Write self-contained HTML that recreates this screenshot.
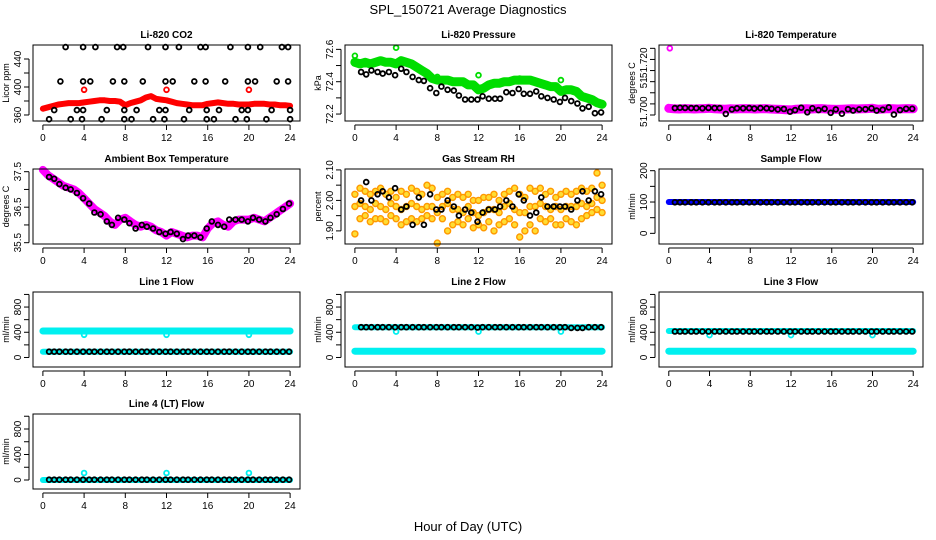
<!DOCTYPE html>
<html><head><meta charset="utf-8"><style>
html,body{margin:0;padding:0;background:#fff;}
svg{display:block;font-family:"Liberation Sans",Arial,sans-serif;}
</style></head><body>
<svg id="chart" width="936" height="540" viewBox="0 0 936 540" xmlns="http://www.w3.org/2000/svg">
<text x="468" y="14" text-anchor="middle" font-size="13">SPL_150721  Average Diagnostics</text>
<text x="468" y="531" text-anchor="middle" font-size="13">Hour of Day (UTC)</text>
</svg>
<script>
const hoursD = [0,0.5,1,1.5,2,2.5,3,3.5,4,4.5,5,5.5,6,6.5,7,7.5,8,8.5,9,9.5,10,10.5,11,11.5,12,12.5,13,13.5,14,14.5,15,15.5,16,16.5,17,17.5,18,18.5,19,19.5,20,20.5,21,21.5,22,22.5,23,23.5,24];
const hoursB = [0.6,1.1,1.6,2.2,2.7,3.3,3.9,4.5,5.0,5.6,6.2,6.7,7.3,7.9,8.4,9.0,9.6,10.1,10.7,11.3,11.9,12.4,13.0,13.6,14.1,14.7,15.3,15.9,16.4,17.0,17.6,18.1,18.7,19.3,19.9,20.4,21.0,21.6,22.1,22.7,23.3,23.9];
const xTicks = [0,4,8,12,16,20,24];
const outX = [4,12,20];

// CO2
const co2Band = [369,371,373,375,376,377,377,377,378,379,380,381,381,380,380,379,374,377,379,381,385,387,383,382,381,379,377,376,375,374,374,374,376,377,378,377,376,376,375,375,375,376,376,376,375,375,374,374,373];
const co2L1X = [2.2,3.9,5.1,7.2,7.8,10.2,11.9,13.2,15.3,15.8,18.2,19.9,21.1,23.2,23.8];
const co2L2X = [1.7,3.9,4.6,6.8,7.9,9.7,11.9,12.6,14.7,15.8,17.7,19.9,20.6,22.7,23.8];
const co2L3X = [1.1,3.3,3.9,6.2,7.9,9.1,11.3,11.9,14.2,15.9,17.1,19.3,19.9,22.2,24.0];
const co2L4X = [0.6,2.7,3.8,5.7,7.9,8.6,10.7,11.8,13.7,15.9,16.6,18.7,19.8,21.7,24.0];
const co2L1Y = [457,457,457,457,457,457,457,457,457,457,457,457,457,457,457];
const co2L2Y = [408,408,408,408,408,408,408,408,408,408,408,408,408,408,408];
const co2L3Y = [367,367,367,367,367,367,367,367,367,367,367,367,367,367,367];
const co2L4Y = [354,354,354,354,354,354,354,354,354,354,354,354,354,354,354];
const co2Out = [396,396,396];

// Pressure
const presBand = [72.52,72.51,72.52,72.51,72.52,72.53,72.52,72.52,72.51,72.53,72.52,72.51,72.49,72.47,72.45,72.42,72.41,72.41,72.41,72.40,72.40,72.40,72.38,72.38,72.35,72.36,72.38,72.39,72.39,72.40,72.40,72.41,72.41,72.41,72.41,72.40,72.39,72.38,72.37,72.37,72.34,72.35,72.35,72.34,72.31,72.30,72.29,72.27,72.26];
const presBlack = [72.46,72.445,72.47,72.46,72.45,72.46,72.44,72.48,72.46,72.43,72.41,72.405,72.36,72.33,72.37,72.35,72.345,72.315,72.29,72.29,72.29,72.31,72.295,72.295,72.295,72.335,72.33,72.355,72.325,72.325,72.34,72.31,72.30,72.29,72.275,72.30,72.28,72.265,72.235,72.245,72.205,72.21];
const presOutX = [0,4,8,12,16,20];
const presOut = [72.56,72.61,72.43,72.44,72.42,72.41];

// Li-820 temperature
const ltBand = [51.7030,51.7028,51.7027,51.7029,51.7028,51.7027,51.7028,51.7029,51.7030,51.7028,51.7027,51.7026,51.7028,51.7027,51.7028,51.7029,51.7028,51.7027,51.7028,51.7029,51.7027,51.7026,51.7025,51.7024,51.7023,51.7026,51.7027,51.7028,51.7027,51.7028,51.7029,51.7027,51.7026,51.7025,51.7026,51.7027,51.7028,51.7027,51.7028,51.7029,51.7030,51.7026,51.7027,51.7029,51.7028,51.7027,51.7028,51.7029,51.7028];
const ltBlack = [51.7031,51.7033,51.7032,51.7031,51.7031,51.7030,51.7032,51.7031,51.7031,51.7005,51.7025,51.7030,51.7030,51.7031,51.7029,51.7031,51.7030,51.7028,51.7025,51.7027,51.7015,51.7022,51.7033,51.7012,51.7030,51.7022,51.7028,51.7010,51.7025,51.7006,51.7026,51.7020,51.7025,51.7026,51.7030,51.7020,51.7024,51.7034,51.7002,51.7022,51.7028,51.7028];
const ltOutX = [0.1];
const ltOut = [51.7300];

// Ambient box temperature
const ambBand = [37.55,37.4,37.3,37.2,37.1,37.05,37.0,36.9,36.75,36.6,36.45,36.35,36.25,36.1,36.0,36.15,36.2,36.1,36.0,35.95,36.0,35.95,35.85,35.8,35.7,35.8,35.75,35.7,35.65,35.7,35.7,35.65,35.9,36.05,36.1,36.0,35.95,36.1,36.15,36.15,36.15,36.2,36.15,36.1,36.2,36.3,36.4,36.5,36.6];
const ambBlack = [37.35,37.3,37.15,37.05,37.0,36.9,36.75,36.6,36.35,36.3,36.1,36.0,36.2,36.15,36.05,35.9,36.0,35.95,35.9,35.8,35.75,35.8,35.75,35.6,35.7,35.7,35.65,35.9,36.1,36.0,35.95,36.15,36.15,36.15,36.1,36.2,36.15,36.1,36.2,36.3,36.45,36.6];

// Gas stream RH
const rhA = [2.02,2.04,2.03,2.02,2.03,2.04,2.02,2.03,2.01,2.03,2.02,2.04,2.03,2.02,2.05,2.04,2.01,2.02,2.03,2.01,2.02,2.01,2.02,2.00,2.00,2.01,2.01,2.02,2.00,2.02,2.03,2.04,2.02,2.01,2.04,2.03,2.04,2.02,2.03,2.01,2.02,2.03,2.02,2.03,2.04,2.03,2.04,2.09,2.05];
const rhB = [1.98,1.99,1.98,1.97,1.99,1.98,1.97,1.99,1.98,1.97,1.98,1.99,1.98,1.97,1.98,1.98,1.96,1.98,1.99,1.97,1.97,1.96,1.98,1.96,1.95,1.96,1.97,1.97,1.96,1.98,1.99,1.97,1.96,1.96,1.98,1.98,1.99,1.98,1.97,1.98,1.97,1.98,1.98,1.98,1.99,1.98,1.99,2.01,2.00];
const rhC = [1.89,1.94,1.95,1.93,1.94,1.94,1.93,1.95,1.94,1.92,1.93,1.94,1.93,1.94,1.95,1.94,1.86,1.94,1.90,1.92,1.93,1.92,1.94,1.91,1.92,1.91,1.93,1.90,1.92,1.93,1.94,1.92,1.88,1.90,1.92,1.90,1.94,1.93,1.94,1.92,1.92,1.94,1.93,1.92,1.94,1.95,1.96,1.97,1.96];
const rhBlack = [2.00,2.06,2.00,2.02,2.03,2.01,2.04,1.97,1.98,1.92,2.01,1.92,2.02,1.97,1.97,2.00,1.98,1.95,1.97,1.96,1.93,1.96,1.97,1.97,1.98,2.00,1.98,2.02,2.00,1.95,1.96,2.01,1.98,1.98,1.98,1.98,1.97,2.00,2.03,2.00,2.03,2.02];

// Sample flow
const sfBand = [100,100,100,100,100,100,100,100,100,100,100,100,100,100,100,100,100,100,100,100,100,100,100,100,100,100,100,100,100,100,100,100,100,100,100,100,100,100,100,100,100,100,100,100,100,100,100,100,100];
const sfBlack = [99,99,99,99,99,99,99,99,99,99,99,99,99,99,99,99,99,99,99,99,99,99,99,99,99,99,99,99,99,99,99,99,99,99,99,99,99,99,99,99,99,99];

// Line flows
const l1High = [420,420,420,420,420,420,420,420,420,420,420,420,420,420,420,420,420,420,420,420,420,420,420,420,420,420,420,420,420,420,420,420,420,420,420,420,420,420,420,420,420,420,420,420,420,420,420,420,420];
const l1Low = [90,90,90,90,90,90,90,90,90,90,90,90,90,90,90,90,90,90,90,90,90,90,90,90,90,90,90,90,90,90,90,90,90,90,90,90,90,90,90,90,90,90,90,90,90,90,90,90,90];
const l1Black = [92,92,92,92,92,92,92,92,92,92,92,92,92,92,92,92,92,92,92,92,92,92,92,92,92,92,92,92,92,92,92,92,92,92,92,92,92,92,92,92,92,92];
const l1Out = [360,360,360];
const l2High = [480,480,480,480,480,480,480,480,480,480,480,480,480,480,480,480,480,480,480,480,480,480,480,480,480,480,480,480,480,480,480,480,480,480,480,480,480,480,480,480,480,480,480,480,480,480,480,480,480];
const l2Low = [100,100,100,100,100,100,100,100,100,100,100,100,100,100,100,100,100,100,100,100,100,100,100,100,100,100,100,100,100,100,100,100,100,100,100,100,100,100,100,100,100,100,100,100,100,100,100,100,100];
const l2Black = [480,480,480,480,480,480,480,480,480,480,480,480,480,480,480,480,480,480,480,480,475,480,480,480,480,480,480,480,480,480,480,480,480,480,480,480,470,470,470,480,480,480];
const l2Out = [410,410,410];
const l3High = [420,420,420,420,420,420,420,420,420,420,420,420,420,420,420,420,420,420,420,420,420,420,420,420,420,420,420,420,420,420,420,420,420,420,420,420,420,420,420,420,420,420,420,420,420,420,420,420,420];
const l3Low = [100,100,100,100,100,100,100,100,100,100,100,100,100,100,100,100,100,100,100,100,100,100,100,100,100,100,100,100,100,100,100,100,100,100,100,100,100,100,100,100,100,100,100,100,100,100,100,100,100];
const l3Black = [412,412,412,412,412,412,412,412,412,412,412,412,412,412,412,412,412,412,412,412,412,412,412,412,412,412,412,412,412,412,412,412,412,412,412,412,412,412,412,412,412,412];
const l3Out = [355,355,355];
const l4Band = [0,0,0,0,0,0,0,0,0,0,0,0,0,0,0,0,0,0,0,0,0,0,0,0,0,0,0,0,0,0,0,0,0,0,0,0,0,0,0,0,0,0,0,0,0,0,0,0,0];
const l4Black = [5,5,5,5,5,5,5,5,5,5,5,5,5,5,5,5,5,5,5,5,5,5,5,5,5,5,5,5,5,5,5,5,5,5,5,5,5,5,5,5,5,5];
const l4Out = [110,110,110];

const svg = document.getElementById('chart');
const NS = 'http://www.w3.org/2000/svg';
function mk(tag, attrs, parent) {
  const e = document.createElementNS(NS, tag);
  for (const k in attrs) e.setAttribute(k, attrs[k]);
  (parent || svg).appendChild(e);
  return e;
}

function panel(p) {
  const g = mk('g', {});
  
  
  const xmin = -0.96, xmax = 24.96;
  const sx = v => p.x0 + (v - xmin) / (xmax - xmin) * (p.x1 - p.x0);
  const sy = v => p.y1 - (v - p.ymin) / (p.ymax - p.ymin) * (p.y1 - p.y0);
  const t = mk('text', {x: (p.x0 + p.x1) / 2, y: p.y0 - 7, 'text-anchor': 'middle', 'font-size': 10, 'font-weight': 'bold'}, g);
  t.textContent = p.title;
  
  
  const sg = mk('g', {}, g);
  
  
  p.series.forEach(s => {
    if (s.kind === 'band') {
      const pts = s.xs.map((x, i) => sx(x).toFixed(1) + ',' + sy(s.ys[i]).toFixed(1)).join(' ');
      const pl = mk('polyline', {points: pts, fill: 'none', stroke: s.color, 'stroke-width': s.w, 'stroke-linejoin': 'round', 'stroke-linecap': 'round'}, sg);
      
      
    } else {
      s.xs.forEach((x, i) => {
        const c = mk('circle', {cx: sx(x).toFixed(1), cy: sy(s.ys[i]).toFixed(1), r: s.r || 2.4, fill: s.fill || 'none', stroke: s.color, 'stroke-width': s.sw || 1.8}, sg);
        
        
      });
    }
  });
  const b = mk('rect', {x: p.x0, y: p.y0, width: p.x1 - p.x0, height: p.y1 - p.y0, fill: 'none', stroke: '#000', 'stroke-width': 1}, g);
  
  
  const xa = mk('g', {}, g);
  
  
  mk('line', {x1: sx(xTicks[0]), x2: sx(xTicks[xTicks.length - 1]), y1: p.y1 + 4, y2: p.y1 + 4, stroke: '#000'}, xa);
  xTicks.forEach(v => {
    mk('line', {x1: sx(v), x2: sx(v), y1: p.y1 + 4, y2: p.y1 + 9, stroke: '#000'}, xa);
    const tl = mk('text', {x: sx(v), y: p.y1 + 20, 'text-anchor': 'middle', 'font-size': 10}, xa);
    tl.textContent = v;
    
    
  });
  const ya = mk('g', {}, g);
  
  
  const ax = p.x0 - 4;
  mk('line', {x1: ax, x2: ax, y1: sy(p.yticks[0]), y2: sy(p.yticks[p.yticks.length - 1]), stroke: '#000'}, ya);
  p.yticks.forEach(v => mk('line', {x1: ax - 5, x2: ax, y1: sy(v), y2: sy(v), stroke: '#000'}, ya));
  p.ylabV.forEach((v, i) => {
    const yy = sy(v), xx = ax - 8;
    const tl = mk('text', {x: xx, y: yy, 'text-anchor': 'middle', 'font-size': 10, transform: 'rotate(-90 ' + xx + ' ' + yy + ')'}, ya);
    tl.textContent = p.ylabT[i];
    
    
  });
  const yt = mk('text', {x: p.x0 - 24, y: (p.y0 + p.y1) / 2, 'text-anchor': 'middle', 'font-size': 9, transform: 'rotate(-90 ' + (p.x0 - 24) + ' ' + ((p.y0 + p.y1) / 2) + ')'}, g);
  yt.textContent = p.ylab;
  
  
}

const C1 = [33, 300], C2 = [345, 612], C3 = [659, 923];
const R1 = [45, 121], R2 = [169, 244], R3 = [292, 367], R4 = [414, 489];
const flowTicks = [0, 200, 400, 600, 800, 1000];

panel({name: 'co2', title: 'Li-820 CO2', ylab: 'Licor ppm', x0: C1[0], x1: C1[1], y0: R1[0], y1: R1[1], ymin: 351.4, ymax: 460,
  yticks: [360, 380, 400, 420, 440], ylabV: [360, 400, 440], ylabT: ['360', '400', '440'],
  series: [
    {kind: 'band', name: 'co2-band', xs: hoursD, ys: co2Band, color: '#ff0000', w: 6},
    {kind: 'pts', name: 'co2-outlier', xs: outX, ys: co2Out, color: '#ff0000'},
    {kind: 'pts', name: 'co2-black-a', xs: co2L1X, ys: co2L1Y, color: '#000'},
    {kind: 'pts', name: 'co2-black-b', xs: co2L2X, ys: co2L2Y, color: '#000'},
    {kind: 'pts', name: 'co2-black-c', xs: co2L3X, ys: co2L3Y, color: '#000'},
    {kind: 'pts', name: 'co2-black-d', xs: co2L4X, ys: co2L4Y, color: '#000'}]});

panel({name: 'pressure', title: 'Li-820 Pressure', ylab: 'kPa', x0: C2[0], x1: C2[1], y0: R1[0], y1: R1[1], ymin: 72.157, ymax: 72.627,
  yticks: [72.2, 72.3, 72.4, 72.5, 72.6], ylabV: [72.2, 72.4, 72.6], ylabT: ['72.2', '72.4', '72.6'],
  series: [
    {kind: 'band', name: 'pressure-band', xs: hoursD, ys: presBand, color: '#00dd00', w: 9},
    {kind: 'pts', name: 'pressure-outlier', xs: presOutX, ys: presOut, color: '#00dd00'},
    {kind: 'pts', name: 'pressure-black', xs: hoursB, ys: presBlack, color: '#000'}]});

panel({name: 'li820-temp', title: 'Li-820 Temperature', ylab: 'degrees C', x0: C3[0], x1: C3[1], y0: R1[0], y1: R1[1], ymin: 51.6973, ymax: 51.7315,
  yticks: [51.700, 51.705, 51.710, 51.715, 51.720, 51.725, 51.730], ylabV: [51.7015, 51.7145, 51.7235], ylabT: ['51.700', '51', '51.720'],
  series: [
    {kind: 'band', name: 'li820-temp-band', xs: hoursD, ys: ltBand, color: '#ff00ff', w: 9},
    {kind: 'pts', name: 'li820-temp-outlier', xs: ltOutX, ys: ltOut, color: '#ff00ff'},
    {kind: 'pts', name: 'li820-temp-black', xs: hoursB, ys: ltBlack, color: '#000'}]});

panel({name: 'ambient', title: 'Ambient Box Temperature', ylab: 'degrees C', x0: C1[0], x1: C1[1], y0: R2[0], y1: R2[1], ymin: 35.463, ymax: 37.576,
  yticks: [35.5, 36, 36.5, 37, 37.5], ylabV: [35.5, 36.5, 37.5], ylabT: ['35.5', '36.5', '37.5'],
  series: [
    {kind: 'band', name: 'ambient-band', xs: hoursD, ys: ambBand, color: '#ff00ff', w: 8},
    {kind: 'pts', name: 'ambient-black', xs: hoursB, ys: ambBlack, color: '#000'}]});

panel({name: 'rh', title: 'Gas Stream RH', ylab: 'percent', x0: C2[0], x1: C2[1], y0: R2[0], y1: R2[1], ymin: 1.857, ymax: 2.103,
  yticks: [1.90, 1.95, 2.00, 2.05, 2.10], ylabV: [1.90, 2.00, 2.10], ylabT: ['1.90', '2.00', '2.10'],
  series: [
    {kind: 'pts', name: 'rh-upper', xs: hoursD, ys: rhA, color: '#ff9900', fill: '#ffdd33', r: 3, sw: 1.4},
    {kind: 'pts', name: 'rh-mid', xs: hoursD, ys: rhB, color: '#ff9900', fill: '#ffdd33', r: 3, sw: 1.4},
    {kind: 'pts', name: 'rh-lower', xs: hoursD, ys: rhC, color: '#ff9900', fill: '#ffdd33', r: 3, sw: 1.4},
    {kind: 'pts', name: 'rh-black', xs: hoursB, ys: rhBlack, color: '#000'}]});

panel({name: 'sample-flow', title: 'Sample Flow', ylab: 'ml/min', x0: C3[0], x1: C3[1], y0: R2[0], y1: R2[1], ymin: -34, ymax: 205.4,
  yticks: [0, 50, 100, 150, 200], ylabV: [0, 100, 200], ylabT: ['0', '100', '200'],
  series: [
    {kind: 'band', name: 'sample-flow-band', xs: hoursD, ys: sfBand, color: '#0000ff', w: 6},
    {kind: 'pts', name: 'sample-flow-black', xs: hoursB, ys: sfBlack, color: '#000'}]});

panel({name: 'line1', title: 'Line 1 Flow', ylab: 'ml/min', x0: C1[0], x1: C1[1], y0: R3[0], y1: R3[1], ymin: -151, ymax: 1038.7,
  yticks: flowTicks, ylabV: [0, 400, 800], ylabT: ['0', '400', '800'],
  series: [
    {kind: 'band', name: 'line1-high-band', xs: hoursD, ys: l1High, color: '#00f0f0', w: 7},
    {kind: 'band', name: 'line1-low-band', xs: hoursD, ys: l1Low, color: '#00f0f0', w: 6},
    {kind: 'pts', name: 'line1-outlier', xs: outX, ys: l1Out, color: '#00f0f0'},
    {kind: 'pts', name: 'line1-black', xs: hoursB, ys: l1Black, color: '#000'}]});

panel({name: 'line2', title: 'Line 2 Flow', ylab: 'ml/min', x0: C2[0], x1: C2[1], y0: R3[0], y1: R3[1], ymin: -151, ymax: 1038.7,
  yticks: flowTicks, ylabV: [0, 400, 800], ylabT: ['0', '400', '800'],
  series: [
    {kind: 'band', name: 'line2-high-band', xs: hoursD, ys: l2High, color: '#00f0f0', w: 6},
    {kind: 'band', name: 'line2-low-band', xs: hoursD, ys: l2Low, color: '#00f0f0', w: 7},
    {kind: 'pts', name: 'line2-outlier', xs: outX, ys: l2Out, color: '#00f0f0'},
    {kind: 'pts', name: 'line2-black', xs: hoursB, ys: l2Black, color: '#000'}]});

panel({name: 'line3', title: 'Line 3 Flow', ylab: 'ml/min', x0: C3[0], x1: C3[1], y0: R3[0], y1: R3[1], ymin: -151, ymax: 1038.7,
  yticks: flowTicks, ylabV: [0, 400, 800], ylabT: ['0', '400', '800'],
  series: [
    {kind: 'band', name: 'line3-high-band', xs: hoursD, ys: l3High, color: '#00f0f0', w: 6},
    {kind: 'band', name: 'line3-low-band', xs: hoursD, ys: l3Low, color: '#00f0f0', w: 7},
    {kind: 'pts', name: 'line3-outlier', xs: outX, ys: l3Out, color: '#00f0f0'},
    {kind: 'pts', name: 'line3-black', xs: hoursB, ys: l3Black, color: '#000'}]});

panel({name: 'line4', title: 'Line 4 (LT) Flow', ylab: 'ml/min', x0: C1[0], x1: C1[1], y0: R4[0], y1: R4[1], ymin: -141, ymax: 1035,
  yticks: flowTicks, ylabV: [0, 400, 800], ylabT: ['0', '400', '800'],
  series: [
    {kind: 'band', name: 'line4-band', xs: hoursD, ys: l4Band, color: '#00f0f0', w: 6},
    {kind: 'pts', name: 'line4-outlier', xs: outX, ys: l4Out, color: '#00f0f0'},
    {kind: 'pts', name: 'line4-black', xs: hoursB, ys: l4Black, color: '#000'}]});
</script>
</body></html>
